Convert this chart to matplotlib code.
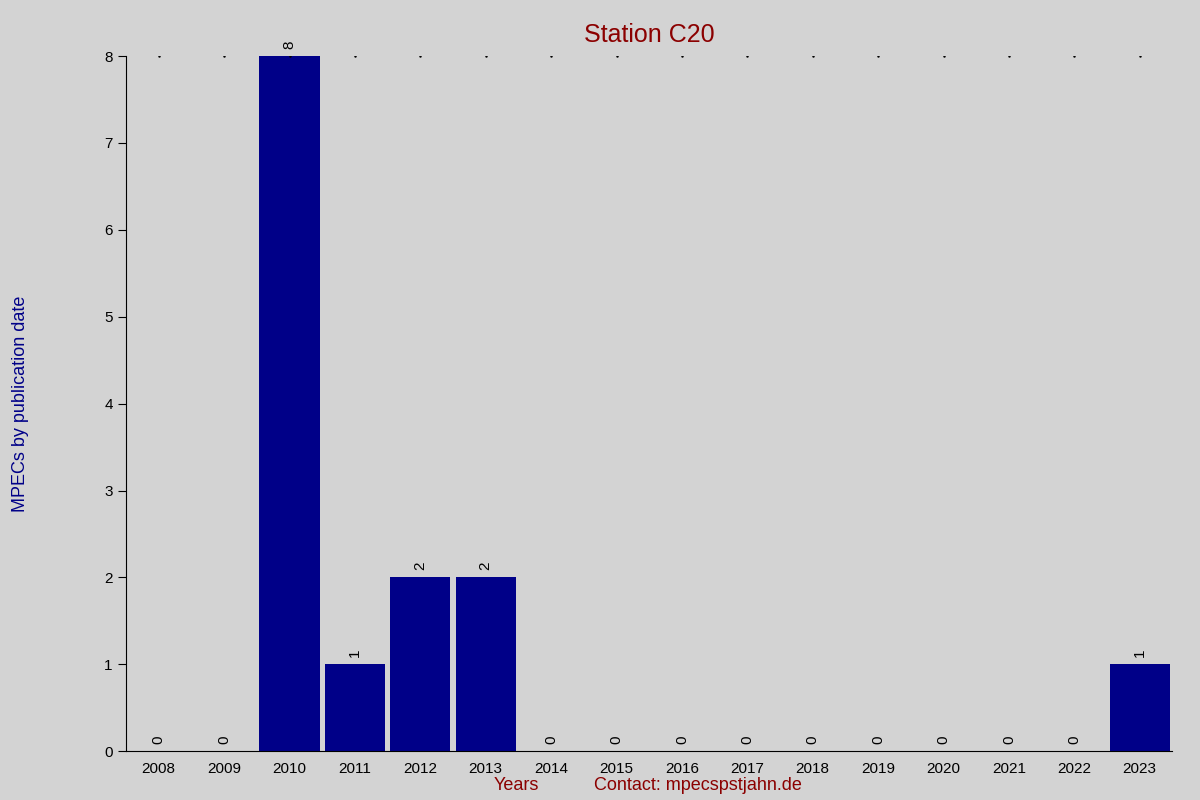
import matplotlib
matplotlib.use("Agg")
import matplotlib.pyplot as plt

years = ["2008","2009","2010","2011","2012","2013","2014","2015","2016","2017","2018","2019","2020","2021","2022","2023"]
counts = [0,0,8,1,2,2,0,0,0,0,0,0,0,0,0,1]

plt.rcParams['font.family'] = ['Liberation Sans', 'DejaVu Sans']
fig = plt.figure(figsize=(12, 8), dpi=100, facecolor='#d3d3d3')
ax = fig.add_axes([0.105, 0.061, 0.872, 0.869], facecolor='#d3d3d3')
x = list(range(len(years)))
ax.bar(x, counts, width=0.92, color='#000088')
for xi, c in zip(x, counts):
    ax.text(xi, c + 0.08, str(c), rotation=90, ha='center', va='bottom', fontsize=11, color='black')
    ax.plot(xi, 8, marker='.', markersize=1.5, color='black')
ax.set_xlim(-0.5, 15.5)
ax.set_ylim(0, 8)
ax.set_xticks(x)
ax.set_xticklabels(years, fontsize=11)
ax.set_yticks(range(9))
ax.tick_params(axis='y', direction='out', length=6, labelsize=11)
ax.tick_params(axis='x', length=0, labelsize=11, pad=8)
for s in ['top', 'right']:
    ax.spines[s].set_visible(False)
ax.set_title("Station C20", color='#8b0000', fontsize=18, pad=10)
fig.text(0.43, 0.012, "Years", color='#8b0000', fontsize=13, ha='center')
fig.text(0.582, 0.012, "Contact: mpecspstjahn.de", color='#8b0000', fontsize=13, ha='center')
fig.text(0.01, 0.495, "MPECs by publication date", color='#000088', fontsize=13, rotation=90, va='center')
fig.savefig("out.png", dpi=100, facecolor='#d3d3d3')
